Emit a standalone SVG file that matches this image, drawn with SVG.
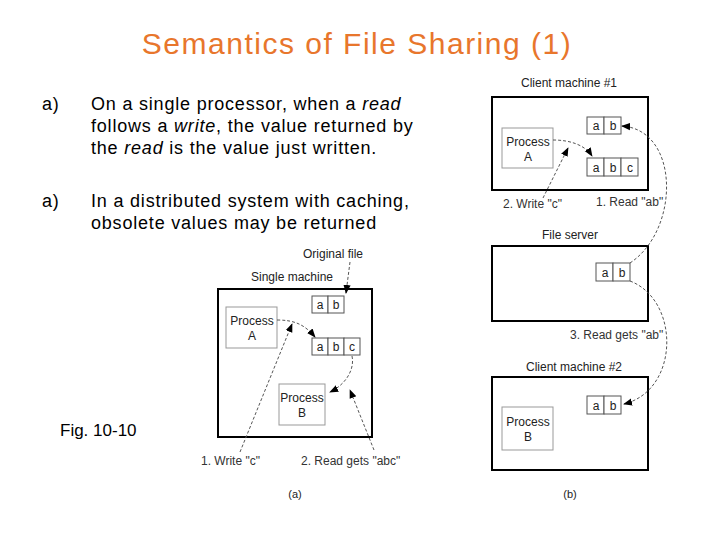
<svg xmlns="http://www.w3.org/2000/svg" width="720" height="540" viewBox="0 0 720 540">
<style>
text{font-family:"Liberation Sans",Arial,sans-serif}
.t{font-size:18px;fill:#000;letter-spacing:0.8px}
.s{font-size:12px;fill:#333}
.c{font-size:12px;fill:#222;text-anchor:middle}
.box{fill:#fff;stroke:#000;stroke-width:2}
.p{fill:#fff;stroke:#999;stroke-width:1}
.cell{fill:#fff;stroke:#555;stroke-width:1}
.d{fill:none;stroke:#555;stroke-width:1;stroke-dasharray:3 2}
</style>
<defs><marker id="ar" viewBox="0 0 10 10" refX="9" refY="5" markerWidth="9" markerHeight="9" orient="auto"><path d="M0,1 L10,5 L0,9 z" fill="#000"/></marker></defs>
<text x="357" y="54" text-anchor="middle" style="font-size:30px;fill:#E8762C;letter-spacing:1.5px">Semantics of File Sharing (1)</text>
<g id="text1"><text class="t" x="42" y="110">a)</text>
<text class="t" x="91" y="110">On a single processor, when a <tspan font-style="italic">read</tspan></text>
<text class="t" x="91" y="132">follows a <tspan font-style="italic">write</tspan>, the value returned by</text>
<text class="t" x="91" y="154">the <tspan font-style="italic">read</tspan> is the value just written.</text>
<text class="t" x="42" y="207">a)</text>
<text class="t" x="91" y="207">In a distributed system with caching,</text>
<text class="t" x="91" y="229">obsolete values may be returned</text>
<text x="60" y="436" style="font-size:17px">Fig. 10-10</text></g>

<g id="singleMachine">
<text class="c" x="292" y="281">Single machine</text>
<rect class="box" x="218" y="289" width="154" height="148"/>
<text class="c" x="333" y="258">Original file</text>
<rect class="p" x="226" y="307" width="51" height="41"/>
<text class="c" x="252" y="325">Process</text><text class="c" x="252" y="340">A</text>
<rect class="cell" x="312" y="296" width="16" height="17"/><rect class="cell" x="328" y="296" width="16" height="17"/>
<text class="c" x="320" y="309">a</text><text class="c" x="336" y="309">b</text>
<rect class="cell" x="312" y="338" width="16" height="17"/><rect class="cell" x="328" y="338" width="16" height="17"/><rect class="cell" x="344" y="338" width="16" height="17"/>
<text class="c" x="320" y="351">a</text><text class="c" x="336" y="351">b</text><text class="c" x="352" y="351">c</text>
<rect class="p" x="279" y="384" width="46" height="41"/>
<text class="c" x="302" y="402">Process</text><text class="c" x="302" y="417">B</text>
<text class="s" x="201" y="465">1. Write "c"</text>
<text class="s" x="301" y="465">2. Read gets "abc"</text>
<text class="c" x="295" y="498" style="font-size:11px">(a)</text>
</g>

<g id="client1">
<text class="c" x="569" y="87">Client machine #1</text>
<rect class="box" x="492" y="97" width="156" height="93"/>
<rect class="p" x="502" y="128" width="51" height="40"/>
<text class="c" x="528" y="146">Process</text><text class="c" x="528" y="161">A</text>
<rect class="cell" x="587" y="117" width="17" height="17"/><rect class="cell" x="604" y="117" width="17" height="17"/>
<text class="c" x="596" y="130">a</text><text class="c" x="613" y="130">b</text>
<rect class="cell" x="587" y="158" width="17" height="18"/><rect class="cell" x="604" y="158" width="17" height="18"/><rect class="cell" x="621" y="158" width="17" height="18"/>
<text class="c" x="596" y="172">a</text><text class="c" x="613" y="172">b</text><text class="c" x="630" y="172">c</text>
<text class="s" x="503" y="208">2. Write "c"</text>
<text class="s" x="596" y="206">1. Read "ab"</text>
</g>
<g id="server">
<text class="c" x="570" y="239">File server</text>
<rect class="box" x="492" y="246" width="156" height="75"/>
<rect class="cell" x="596" y="263" width="17" height="18"/><rect class="cell" x="613" y="263" width="17" height="18"/>
<text class="c" x="605" y="277">a</text><text class="c" x="622" y="277">b</text>
<text class="s" x="570" y="339">3. Read gets "ab"</text>
</g>
<g id="client2">
<text class="c" x="574" y="371">Client machine #2</text>
<rect class="box" x="492" y="377" width="156" height="93"/>
<rect class="cell" x="587" y="396" width="17" height="18"/><rect class="cell" x="604" y="396" width="17" height="18"/>
<text class="c" x="596" y="410">a</text><text class="c" x="613" y="410">b</text>
<rect class="p" x="502" y="407" width="51" height="43"/>
<text class="c" x="528" y="426">Process</text><text class="c" x="528" y="441">B</text>
<text class="c" x="570" y="498" style="font-size:11px">(b)</text>
</g>

<g id="connectors">
<path class="d" d="M350,262 L346,293" marker-end="url(#ar)"/>
<path class="d" d="M277,320 C295,320 305,325 315,337" marker-end="url(#ar)"/>
<path class="d" d="M240,452 L292,324" marker-end="url(#ar)"/>
<path class="d" d="M352,356 C355,370 345,385 330,392" marker-end="url(#ar)"/>
<path class="d" d="M374,450 L350,390" marker-end="url(#ar)"/>
<path class="d" d="M553,140 C570,140 585,145 592,156" marker-end="url(#ar)"/>
<path class="d" d="M543,198 L568,148" marker-end="url(#ar)"/>
<path class="d" d="M630,263 C680,230 680,130 622,126" marker-end="url(#ar)"/>
<path class="d" d="M630,281 C680,300 680,390 624,404" marker-end="url(#ar)"/>
</g>
</svg>
